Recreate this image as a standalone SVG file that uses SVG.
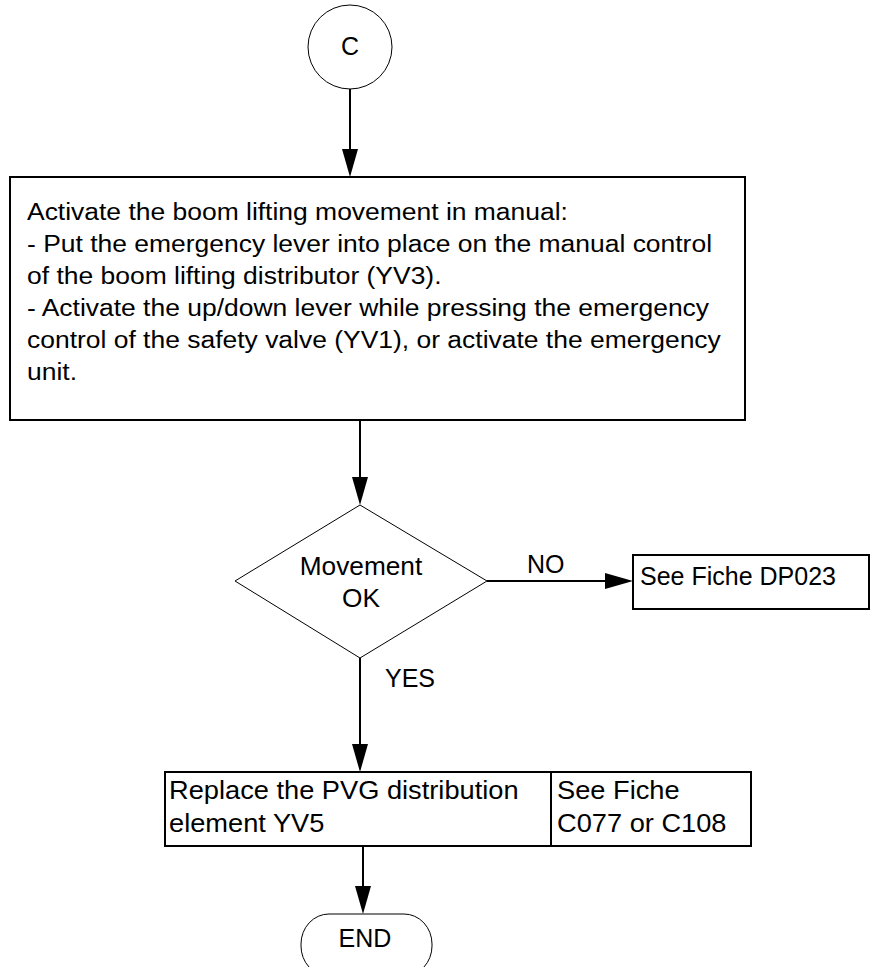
<svg xmlns="http://www.w3.org/2000/svg" width="870" height="967" viewBox="0 0 870 967">
<style>
text{font-family:"Liberation Sans",Arial,sans-serif;font-size:25px;fill:#000}
.big text{font-size:24.5px}
.thin{fill:#fff;stroke:#000;stroke-width:1}
.box{fill:#fff;stroke:#000;stroke-width:2}
.con{fill:none;stroke:#000;stroke-width:2}
</style>
<defs>
<marker id="ah" markerUnits="userSpaceOnUse" markerWidth="28" markerHeight="16" refX="18" refY="8" orient="auto" viewBox="0 0 28 16">
<path d="M0,0 L28,8 L0,16 Z" fill="#000"/>
</marker>
</defs>
<g id="connectors">
<line class="con" x1="350" y1="89" x2="350" y2="167" marker-end="url(#ah)"/>
<line class="con" x1="360" y1="420" x2="360" y2="495" marker-end="url(#ah)"/>
<line class="con" x1="487" y1="581" x2="623" y2="581" marker-end="url(#ah)"/>
<line class="con" x1="360" y1="658" x2="360" y2="762" marker-end="url(#ah)"/>
<line class="con" x1="363" y1="846" x2="363" y2="904" marker-end="url(#ah)"/>
<g transform="translate(527,0) scale(1.0,1)"><text x="0" y="573">NO</text></g>
<g transform="translate(385,0) scale(1.0,1)"><text x="0" y="687">YES</text></g>
</g>
<g id="start">
<circle class="thin" cx="350" cy="47" r="42"/>
<text x="350" y="55" text-anchor="middle">C</text>
</g>
<g id="activate">
<rect class="box" x="10" y="177" width="735" height="243"/>
<g class="big" transform="translate(27,0) scale(1.08,1)">
<text x="0" y="220">Activate the boom lifting movement in manual:</text>
<text x="0" y="252">- Put the emergency lever into place on the manual control</text>
<text x="0" y="284">of the boom lifting distributor (YV3).</text>
<text x="0" y="316">- Activate the up/down lever while pressing the emergency</text>
<text x="0" y="348">control of the safety valve (YV1), or activate the emergency</text>
<text x="0" y="380">unit.</text>
</g>
</g>
<g id="decision">
<polygon class="thin" points="360,505 487,581 360,658 235,581"/>
<g transform="translate(361,0) scale(1.05,1)">
<text x="0" y="575" text-anchor="middle">Movement</text>
<text x="0" y="607" text-anchor="middle">OK</text>
</g>
</g>
<g id="dp023">
<rect class="box" x="633" y="555" width="236" height="54"/>
<text x="640" y="585">See Fiche DP023</text>
</g>
<g id="replace">
<rect class="box" x="165" y="772" width="586" height="74"/>
<line class="con" x1="551" y1="772" x2="551" y2="846"/>
<g transform="translate(169,0) scale(1.09,1)">
<text x="0" y="799">Replace the PVG distribution</text>
<text x="0" y="832">element YV5</text>
</g>
<g transform="translate(557,0) scale(1.09,1)">
<text x="0" y="799">See Fiche</text>
<text x="0" y="832">C077 or C108</text>
</g>
</g>
<g id="end">
<rect class="thin" x="301" y="914" width="131" height="62" rx="28" ry="30"/>
<text x="365" y="947" text-anchor="middle">END</text>
</g>
</svg>
